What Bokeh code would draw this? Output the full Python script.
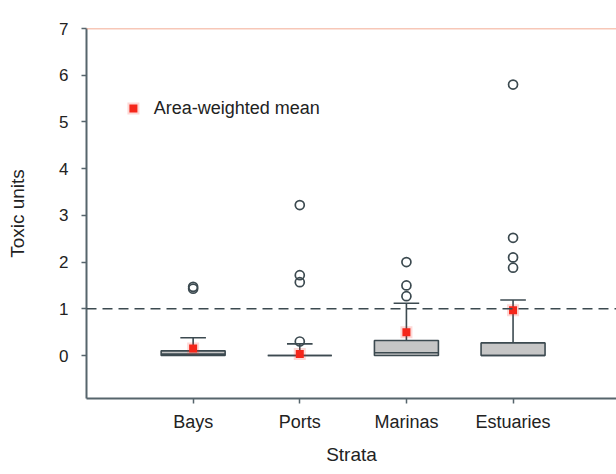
from bokeh.plotting import figure
from bokeh.models import FixedTicker, Span, ColumnDataSource
from bokeh.embed import file_html
from bokeh.resources import INLINE

# ---- data ----
categories = ["Bays", "Ports", "Marinas", "Estuaries"]
positions = [1, 2, 3, 4]
q1 = [0.0, 0.0, 0.0, 0.0]
median = [0.03, 0.0, 0.06, 0.0]
q3 = [0.10, 0.0, 0.32, 0.27]
whisker_top = [0.38, 0.25, 1.12, 1.19]
means = [0.15, 0.03, 0.50, 0.97]
outliers = {
    "Bays": [1.43, 1.47],
    "Ports": [0.30, 1.57, 1.72, 3.22],
    "Marinas": [1.27, 1.50, 2.00],
    "Estuaries": [1.88, 2.10, 2.52, 5.80],
}
threshold = 1.0
y_ticks = [0, 1, 2, 3, 4, 5, 6, 7]

FONT = "Liberation Sans"
AXIS_COL = "#56656c"
BOX_LINE = "#3c4a50"
RED = "#f5261a"

p = figure(width=616, height=474, output_backend="svg", toolbar_location=None,
           x_range=(0, 4.97), y_range=(-0.92, 7.0),
           min_border_left=86, min_border_right=0, min_border_top=28, min_border_bottom=76)
p.outline_line_color = None
p.grid.visible = False
p.background_fill_color = "white"

# threshold dashed line
p.add_layout(Span(location=threshold, dimension="width", line_color="#3c4a50",
                  line_width=1.6, line_dash="10 6"))
# top border
p.add_layout(Span(location=7.0, dimension="width", line_color="#f09070", line_width=1.5))

bw = 0.30
cap = 0.12
src = ColumnDataSource(dict(x=positions, q1=q1, q3=q3, med=median, wt=whisker_top,
                            mean=means))

# whiskers
p.segment(x0="x", y0="q3", x1="x", y1="wt", source=src, line_color=BOX_LINE, line_width=1.6)
p.segment(x0=[x - cap for x in positions], y0=whisker_top,
          x1=[x + cap for x in positions], y1=whisker_top, line_color=BOX_LINE, line_width=1.6)
# boxes
p.quad(left=[x - bw for x in positions], right=[x + bw for x in positions],
       bottom=q1, top=q3, fill_color="#c6c6c6", line_color=BOX_LINE, line_width=1.6)
p.segment(x0=[x - bw for x in positions], y0=median,
          x1=[x + bw for x in positions], y1=median, line_color=BOX_LINE, line_width=1.6)

# outliers
ox, oy = [], []
for c, x in zip(categories, positions):
    for v in outliers[c]:
        ox.append(x)
        oy.append(v)
p.scatter(ox, oy, marker="circle", size=9, fill_color=None, line_color="#3c4a50", line_width=1.7)

# means with glow
p.scatter(positions, means, marker="square", size=12, fill_color=RED, fill_alpha=0.18,
          line_color=None)
p.scatter(positions, means, marker="square", size=8, fill_color=RED, line_color=None)

# legend (manual)
p.scatter([0.44], [5.29], marker="square", size=12, fill_color=RED, fill_alpha=0.18, line_color=None)
p.scatter([0.44], [5.29], marker="square", size=8, fill_color=RED, line_color=None)
p.text([0.63], [5.29], text=["Area-weighted mean"], text_font={"value": FONT},
       text_font_size="18px", text_baseline="middle", text_color="#222222")

# axes
p.xaxis.ticker = FixedTicker(ticks=positions)
p.xaxis.major_label_overrides = {x: c for x, c in zip(positions, categories)}
p.yaxis.ticker = FixedTicker(ticks=y_ticks)
p.xaxis.axis_label = "Strata"
p.yaxis.axis_label = "Toxic units"
for ax in (p.xaxis, p.yaxis):
    ax.axis_line_color = AXIS_COL
    ax.axis_line_width = 2
    ax.major_tick_line_color = AXIS_COL
    ax.major_tick_line_width = 1.5
    ax.major_tick_out = 5
    ax.major_tick_in = 0
    ax.minor_tick_line_color = None
    ax.major_label_text_font = FONT
    ax.major_label_text_color = "#222222"
    ax.axis_label_text_font = FONT
    ax.axis_label_text_font_style = "normal"
    ax.axis_label_text_font_size = "19px"
    ax.axis_label_text_color = "#222222"
p.xaxis.major_label_text_font_size = "18px"
p.yaxis.major_label_text_font_size = "17px"
p.xaxis.major_label_standoff = 8
p.xaxis.axis_label_standoff = 9
p.yaxis.major_label_standoff = 13
p.yaxis.axis_label_standoff = 28

open("out.html", "w").write(file_html(p, INLINE))
